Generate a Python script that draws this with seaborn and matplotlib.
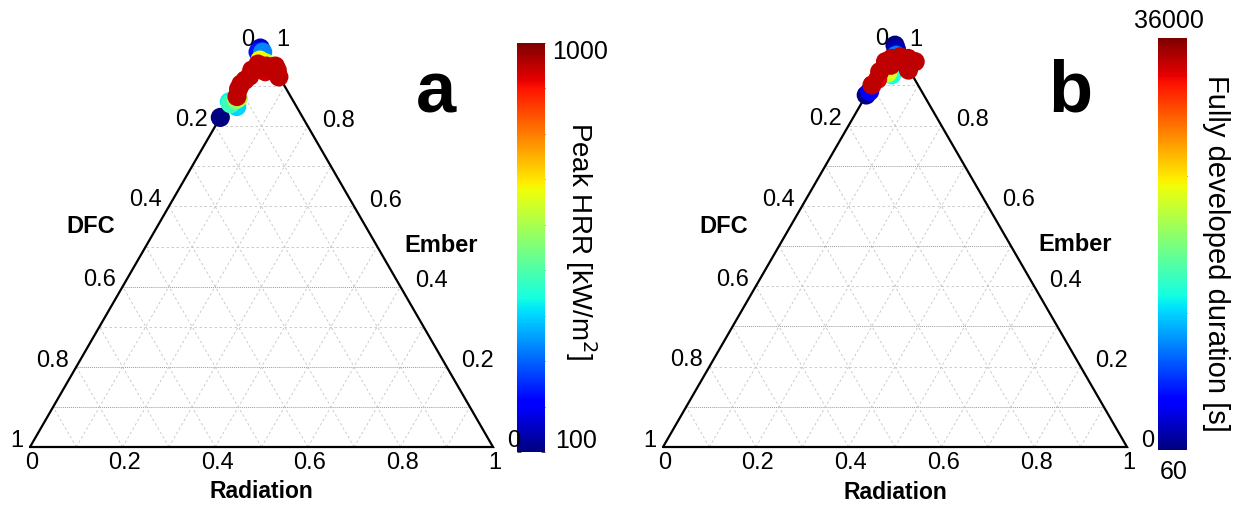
import numpy as np
import pandas as pd
import matplotlib
matplotlib.use("Agg")
import matplotlib.pyplot as plt
import seaborn as sns
from matplotlib.colors import Normalize
from matplotlib.cm import ScalarMappable

sns.set_style("white")
plt.rcParams['font.family'] = ['Liberation Sans', 'DejaVu Sans']
plt.rcParams['text.color'] = 'black'
plt.rcParams['xtick.color'] = 'black'
plt.rcParams['ytick.color'] = 'black'

JET = matplotlib.colormaps['jet']

# ---------------- data ----------------
tick_values = [0, 0.2, 0.4, 0.6, 0.8, 1]
tick_labels = ['0', '0.2', '0.4', '0.6', '0.8', '1']
grid_levels = [0.1, 0.2, 0.3, 0.4, 0.5, 0.6, 0.7, 0.8, 0.9]

# panel a : Peak HRR [kW/m2]
a_radiation = [0.000, 0.000, 0.000, 0.010, 0.000, 0.005, 0.012, 0.022, 0.015,
               0.014, 0.030, 0.045, 0.055,
               0.010, 0.007, 0.009, 0.021, 0.040, 0.048, 0.064, 0.076,
               0.004, 0.003, 0.012, 0.030, 0.055, 0.068, 0.015, 0.035]
a_ember = [0.822, 0.995, 0.985, 0.985, 0.861, 0.856, 0.866, 0.849, 0.870,
           0.965, 0.958, 0.945, 0.948,
           0.874, 0.915, 0.940, 0.944, 0.936, 0.948, 0.940, 0.923,
           0.893, 0.905, 0.925, 0.948, 0.950, 0.932, 0.955, 0.950]
a_hrr = [100, 160, 230, 330, 430, 480, 560, 400, 600,
         680, 640, 720, 780,
         950, 950, 950, 950, 940, 950, 950, 950,
         945, 950, 950, 930, 950, 950, 945, 950]

# panel b : Fully developed duration [s]
b_radiation = [0.000, 0.010, 0.000, 0.003, 0.030, 0.019, 0.052, 0.015, 0.008,
               0.000, 0.000, 0.000, 0.009, 0.025, 0.045, 0.064, 0.060,
               0.005, 0.016, 0.035, 0.055]
b_ember = [1.000, 0.985, 0.876, 0.885, 0.926, 0.931, 0.946, 0.975, 0.990,
           0.901, 0.934, 0.959, 0.967, 0.971, 0.967, 0.959, 0.938,
           0.915, 0.950, 0.965, 0.955]
b_duration = [60, 2000, 60, 4000, 14000, 22000, 3000, 9000, 1500,
              34000, 34000, 34000, 34000, 34000, 34000, 34000, 34000,
              33000, 34000, 34000, 34000]

a_emph = [0.1, 0.2, 0.4]
b_emph = [0.1, 0.3, 0.5, 0.7]

H = np.sqrt(3) / 2


def to_xy(rad, ember):
    rad = np.asarray(rad, float)
    ember = np.asarray(ember, float)
    return rad + ember / 2, ember * H


def draw_panel(ax, rad, ember, vals, vmin, vmax, letter, emph):
    style = dict(color='#c4c4c4', lw=0.6, ls=(0, (3, 3)), zorder=1)
    for t in grid_levels:
        x, y = to_xy([0, 1 - t], [t, t])
        if any(abs(t - e) < 1e-6 for e in emph):
            ax.plot(x, y, color='#9a9a9a', lw=0.7, ls=(0, (1, 1)), zorder=1)
        else:
            ax.plot(x, y, **style)
        x, y = to_xy([t, t], [0, 1 - t])
        ax.plot(x, y, **style)
        x, y = to_xy([1 - t, 0], [0, 1 - t])
        ax.plot(x, y, **style)
    x, y = to_xy([0, 1, 0, 0], [0, 0, 1, 0])
    ax.plot(x, y, color='black', lw=1.6, zorder=2, solid_joinstyle='miter')

    df = pd.DataFrame({'rad': rad, 'ember': ember, 'val': vals})
    df = df.sort_values('val', kind='stable')
    df['x'], df['y'] = to_xy(df['rad'], df['ember'])
    sns.scatterplot(data=df, x='x', y='y', hue='val', palette=JET,
                    hue_norm=(vmin, vmax), s=190, edgecolor='none',
                    legend=False, ax=ax, zorder=5, clip_on=False)

    fs = 17
    for v, lab in zip(tick_values, tick_labels):
        x, y = to_xy(0, 1 - v)
        ax.annotate(lab, (x, y), xytext=(-5, 4.5), textcoords='offset points',
                    ha='right', va='center', fontsize=fs)
        x, y = to_xy(1 - v, v)
        ax.annotate(lab, (x, y), xytext=(10.5, 4.0), textcoords='offset points',
                    ha='left', va='center', fontsize=fs)
        x, y = to_xy(v, 0)
        ax.annotate(lab, (x, y), xytext=(1.5, -11.5), textcoords='offset points',
                    ha='center', va='center', fontsize=fs)

    ax.text(0.13, 0.476, 'DFC', fontsize=17, fontweight='bold', ha='center', va='center')
    ax.text(0.889, 0.436, 'Ember', fontsize=17, fontweight='bold', ha='center', va='center')
    ax.text(0.5, -0.097, 'Radiation', fontsize=16.5, fontweight='bold', ha='center', va='center')
    ax.text(0.877, 0.7235, letter, fontsize=52, fontweight='bold', ha='center', va='baseline')
    ax.set_axis_off()


fig = plt.figure(figsize=(12.35, 5.07), dpi=100)
W, Hp = 1235, 507

ax_a = fig.add_axes([0, 0, 510 / W, 1])
ax_a.set_xlim(-30 / 463, 480 / 463)
ax_a.set_ylim(-60 / 463, 447 / 463)
ax_a.set_zorder(3)
draw_panel(ax_a, a_radiation, a_ember, a_hrr, 100, 1000, 'a', a_emph)

ax_b = fig.add_axes([630 / W, 0, 520 / W, 1])
ax_b.set_xlim(-33 / 464, 487 / 464)
ax_b.set_ylim(-60 / 464, 447 / 464)
ax_b.set_zorder(3)
draw_panel(ax_b, b_radiation, b_ember, b_duration, 60, 36000, 'b', b_emph)

# colorbar a
cax_a = fig.add_axes([517 / W, (Hp - 452) / Hp, 28 / W, 409 / Hp])
cb_a = fig.colorbar(ScalarMappable(Normalize(100, 1000), cmap=JET), cax=cax_a)
cb_a.outline.set_visible(False)
cb_a.set_ticks(list(range(100, 1001, 100)))
cb_a.set_ticklabels([''] * 10)
cax_a.tick_params(direction='in', left=True, right=True, length=3, width=0.6,
                  color='#333333')
cax_a.text(1.25, 1.008, '1000', fontsize=18, ha='left', va='top',
           transform=cax_a.transAxes)
cax_a.text(1.36, -0.003, '100', fontsize=18, ha='left', va='bottom',
           transform=cax_a.transAxes)
cax_a.text(2.29, 0.515, 'Peak HRR [kW/m$^2$]', rotation=-90, fontsize=20,
           ha='center', va='center', transform=cax_a.transAxes)

# colorbar b
cax_b = fig.add_axes([1158 / W, (Hp - 450) / Hp, 29 / W, 412 / Hp])
cb_b = fig.colorbar(ScalarMappable(Normalize(60, 36000), cmap=JET), cax=cax_b)
cb_b.outline.set_visible(False)
cb_b.set_ticks([12000, 24000])
cb_b.set_ticklabels(['', ''])
cax_b.tick_params(direction='in', left=True, right=True, length=3, width=0.6,
                  color='#333333')
cax_b.text(0.38, 1.012, '36000', fontsize=18, ha='center', va='bottom',
           transform=cax_b.transAxes)
cax_b.text(0.55, -0.025, '60', fontsize=18, ha='center', va='top',
           transform=cax_b.transAxes)
cax_b.text(2.0, 0.476, 'Fully developed duration [s]', rotation=-90, fontsize=21,
           ha='center', va='center', transform=cax_b.transAxes)

fig.savefig('out.png', dpi=100, facecolor='white')
